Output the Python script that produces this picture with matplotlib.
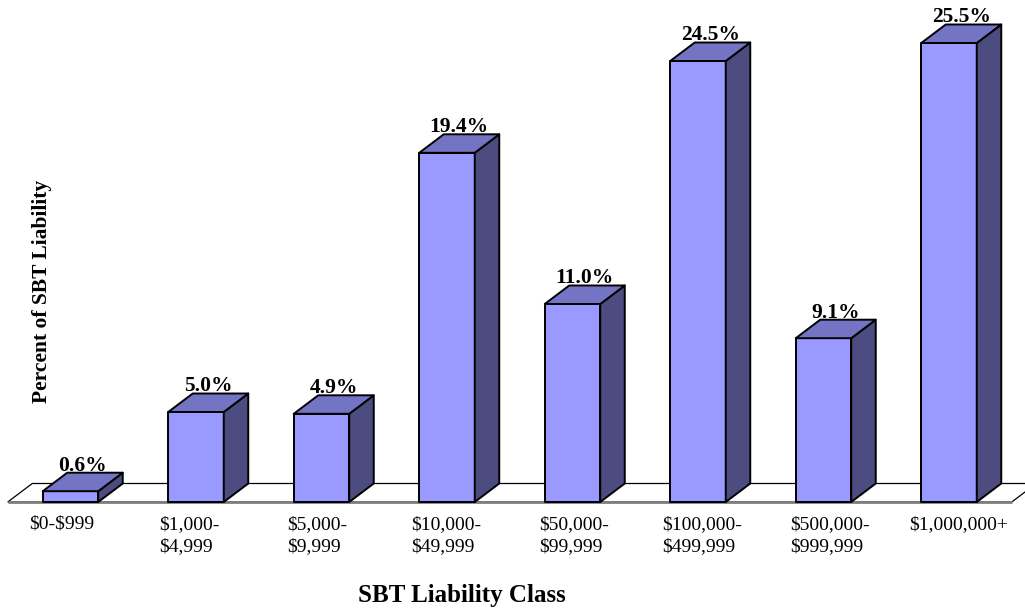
import matplotlib
matplotlib.use("Agg")
import matplotlib.pyplot as plt
from matplotlib.patches import Polygon

plt.rcParams["text.parse_math"] = False

categories = ["$0-$999", "$1,000-\n$4,999", "$5,000-\n$9,999", "$10,000-\n$49,999",
              "$50,000-\n$99,999", "$100,000-\n$499,999", "$500,000-\n$999,999", "$1,000,000+"]
values = [0.6, 5.0, 4.9, 19.4, 11.0, 24.5, 9.1, 25.5]
value_labels = ["0.6%", "5.0%", "4.9%", "19.4%", "11.0%", "24.5%", "9.1%", "25.5%"]

FRONT = "#9999FF"
TOP = "#7474C4"
SIDE = "#4C4C80"
SERIF = ["Liberation Serif", "DejaVu Serif"]

W, H = 1025, 612
fig = plt.figure(figsize=(W / 100, H / 100), dpi=100)
ax = fig.add_axes([0, 0, 1, 1])
ax.set_axis_off()

# scale: bar i centre at pixel 70.5 + 125.5 i ; 18 px per percent, baseline at pixel 502
px_per_cat = 125.5
px_per_pct = 18.0
ax.set_xlim(-70.5 / px_per_cat, (W - 70.5) / px_per_cat)
ax.set_ylim(-(H - 502) / px_per_pct, 502 / px_per_pct)

hw = 27.75 / px_per_cat
dx = 24.5 / px_per_cat
dy = 18.5 / px_per_pct
n = len(values)

# floor
fl, fr = -0.5, n - 0.5
ax.add_patch(Polygon([(fl, 0), (fr, 0), (fr + dx, dy), (fl + dx, dy)], closed=True,
                     facecolor="white", edgecolor="black", lw=0.9, zorder=1))
ax.plot([fl, fr], [0, 0], color="#7f7f7f", lw=2.0, zorder=1.5, solid_capstyle="butt")

for i, (v, lab) in enumerate(zip(values, value_labels)):
    x0, x1 = i - hw, i + hw
    z = 2 + i
    ax.add_patch(Polygon([(x0, 0), (x1, 0), (x1, v), (x0, v)], closed=True,
                         facecolor=FRONT, edgecolor="black", lw=1.4, zorder=z, joinstyle="round"))
    ax.add_patch(Polygon([(x1, 0), (x1 + dx, dy), (x1 + dx, v + dy), (x1, v)], closed=True,
                         facecolor=SIDE, edgecolor="black", lw=1.4, zorder=z, joinstyle="round"))
    ax.add_patch(Polygon([(x0, v), (x1, v), (x1 + dx, v + dy), (x0 + dx, v + dy)], closed=True,
                         facecolor=TOP, edgecolor="black", lw=1.4, zorder=z, joinstyle="round"))
    ax.text(i + dx / 2, v + dy + 0.12, lab, ha="center", va="baseline",
            fontsize=15.5, fontweight="bold", family=SERIF, zorder=20)

# category labels
spread = 128.1 / px_per_cat
offset = (61.5 - 70.5) / px_per_cat
for i, c in enumerate(categories):
    ax.text(offset + i * spread, -(516 - 502) / px_per_pct, c, ha="center", va="top",
            multialignment="left", fontsize=14, family=SERIF, linespacing=1.38)

fig.text(462 / W, 1 - 602 / H, "SBT Liability Class", ha="center", va="baseline",
         fontsize=18, fontweight="bold", family=SERIF)
fig.text(42 / W, 1 - 291 / H, "Percent of SBT Liability", ha="center", va="center",
         rotation=90, fontsize=15.5, fontweight="bold", family=SERIF)

fig.savefig("out.png", dpi=100, facecolor="white")
